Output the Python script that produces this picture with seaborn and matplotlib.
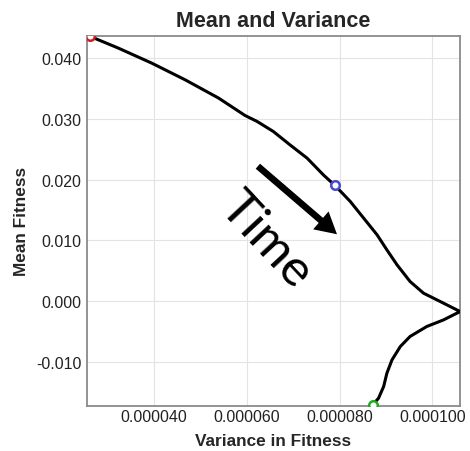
import numpy as np
import pandas as pd
import seaborn as sns
import matplotlib.pyplot as plt

# trajectory of (variance, mean fitness), in time order
variance = [0.0000262, 0.0000323, 0.0000395, 0.0000467, 0.0000539, 0.0000596,
            0.0000622, 0.0000657, 0.0000693, 0.0000730, 0.0000765, 0.0000790,
            0.0000823, 0.0000852, 0.0000881, 0.0000902, 0.0000924, 0.0000952,
            0.0000981, 0.0001017, 0.0001060, 0.0001024, 0.0000988, 0.0000952,
            0.0000931, 0.0000913, 0.0000902, 0.0000895, 0.0000884, 0.0000872]
mean_fit = [0.04354, 0.04161, 0.03914, 0.03640, 0.03340, 0.03054,
            0.02956, 0.02791, 0.02571, 0.02352, 0.02077, 0.01903,
            0.01640, 0.01365, 0.01090, 0.00844, 0.00597, 0.00324,
            0.00132, -0.00005, -0.00170, -0.00308, -0.00416, -0.00580,
            -0.00745, -0.00965, -0.01184, -0.01403, -0.01595, -0.01700]

# start / middle / end markers
mark_idx = [0, 11, 29]
mark_colors = ['#cc2020', '#4a4ad0', '#1faa1f']

x_ticks = [0.00004, 0.00006, 0.00008, 0.00010]
x_ticklabels = ['0.000040', '0.000060', '0.000080', '0.000100']
y_ticks = [-0.010, 0.000, 0.010, 0.020, 0.030, 0.040]
y_ticklabels = ['-0.010', '0.000', '0.010', '0.020', '0.030', '0.040']

df = pd.DataFrame({'var': variance, 'mean': mean_fit})

sns.set_style('whitegrid', {'grid.color': '#e3e3e3', 'axes.edgecolor': '#8a8a8a'})
plt.rcParams['font.family'] = ['Liberation Sans', 'DejaVu Sans']

fig = plt.figure(figsize=(4.7, 4.52), dpi=100)
ax = fig.add_axes([0.185, 0.100, 0.794, 0.818])

sns.lineplot(data=df, x='var', y='mean', sort=False, estimator=None,
             color='black', linewidth=2.2, ax=ax, zorder=3,
             solid_joinstyle='round', solid_capstyle='round')

marks = df.iloc[mark_idx].copy()
marks['c'] = mark_colors
for _, r in marks.iterrows():
    ax.scatter(r['var'], r['mean'], s=38, facecolor='white', edgecolor=r['c'],
               linewidth=1.8, zorder=4)

ax.set_xlim(0.0000255, 0.000106)
ax.set_ylim(-0.0172, 0.0436)
ax.set_xticks(x_ticks)
ax.set_xticklabels(x_ticklabels)
ax.set_yticks(y_ticks)
ax.set_yticklabels(y_ticklabels)
ax.tick_params(length=0, labelsize=11.5, colors='#222222')
ax.tick_params(axis='x', pad=2)
ax.tick_params(axis='y', pad=4)
for s in ax.spines.values():
    s.set_linewidth(1.3)

ax.set_title('Mean and Variance', fontsize=15.5, fontweight='bold', pad=7)
ax.set_xlabel('Variance in Fitness', fontsize=12.4, fontweight='bold', labelpad=7)
ax.set_ylabel('Mean Fitness', fontsize=12.4, fontweight='bold', labelpad=5)

# "Time" arrow annotation
ax.annotate('', xy=(0.670, 0.464), xytext=(0.458, 0.648), xycoords='axes fraction',
            arrowprops=dict(arrowstyle='simple,head_length=0.9,head_width=1.0,tail_width=0.28',
                            mutation_scale=17, color='black', lw=0,
                            shrinkA=0, shrinkB=0), zorder=5)
ax.text(0.478, 0.450, 'Time', transform=ax.transAxes, rotation=-47,
        ha='center', va='center', fontsize=37, color='black',
        family=['Lato', 'DejaVu Sans'])

fig.savefig('out.png', dpi=100)
